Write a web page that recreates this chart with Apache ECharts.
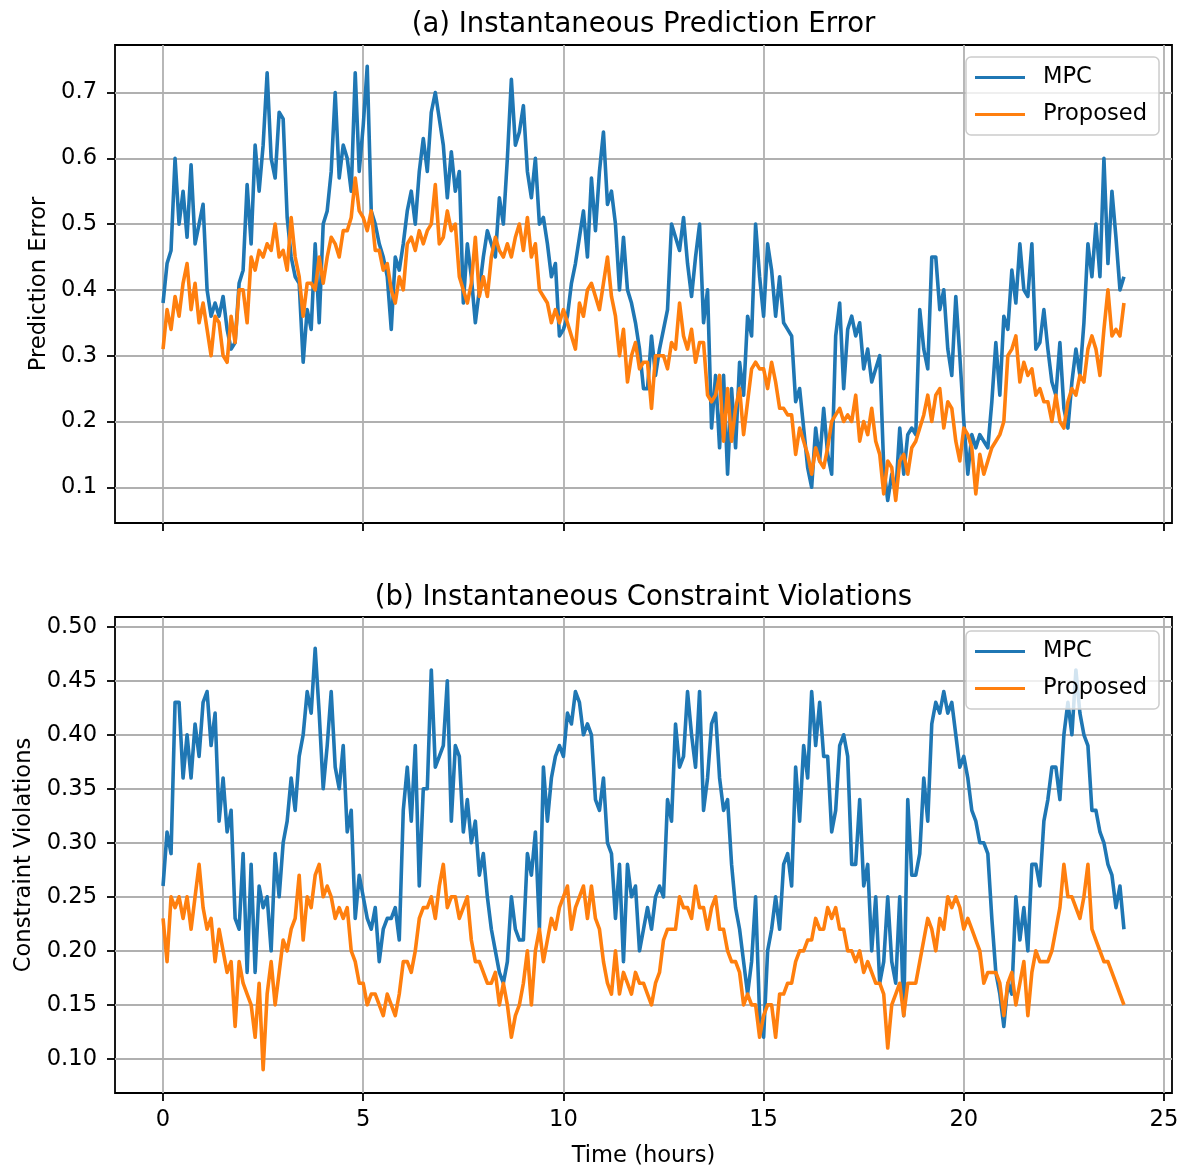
<!DOCTYPE html>
<html lang="en">
<head>
    <meta charset="UTF-8">
    <title>Instantaneous Prediction Error / Constraint Violations</title>
    <script src="https://cdn.jsdelivr.net/npm/echarts@6/dist/echarts.min.js"></script>
    <style>
        html, body { margin: 0; padding: 0; background: #fff; }
        #chart { width: 1184px; height: 1169px; }
    </style>
</head>
<body>
    <div id="chart"></div>

    <script>
        // sampled every 0.1 h, from 0 to 24 h
        const stepHours = 0.1;

        // (a) prediction error, MPC
        const mpcError = [
            0.38, 0.44, 0.46, 0.60, 0.50, 0.55, 0.48, 0.59, 0.47, 0.50,
            0.53, 0.40, 0.36, 0.38, 0.36, 0.39, 0.34, 0.31, 0.32, 0.41,
            0.43, 0.56, 0.47, 0.62, 0.55, 0.62, 0.73, 0.60, 0.57, 0.67,
            0.66, 0.51, 0.45, 0.42, 0.41, 0.29, 0.37, 0.34, 0.47, 0.35,
            0.50, 0.52, 0.58, 0.70, 0.57, 0.62, 0.60, 0.55, 0.73, 0.58,
            0.65, 0.74, 0.52, 0.50, 0.47, 0.45, 0.42, 0.34, 0.45, 0.43,
            0.47, 0.52, 0.55, 0.50, 0.58, 0.63, 0.58, 0.67, 0.70, 0.66,
            0.62, 0.54, 0.61, 0.55, 0.58, 0.38, 0.47, 0.42, 0.35, 0.40,
            0.45, 0.49, 0.47, 0.45, 0.54, 0.50, 0.60, 0.72, 0.62, 0.64,
            0.68, 0.58, 0.54, 0.60, 0.50, 0.51, 0.47, 0.42, 0.44, 0.33,
            0.34, 0.36, 0.41, 0.44, 0.48, 0.52, 0.45, 0.57, 0.49, 0.58,
            0.64, 0.53, 0.55, 0.50, 0.40, 0.48, 0.40, 0.38, 0.35, 0.31,
            0.25, 0.25, 0.33, 0.27, 0.31, 0.34, 0.37, 0.50, 0.48, 0.46,
            0.51, 0.44, 0.39, 0.45, 0.50, 0.35, 0.40, 0.19, 0.27, 0.16,
            0.27, 0.12, 0.25, 0.16, 0.29, 0.24, 0.36, 0.33, 0.50, 0.42,
            0.36, 0.47, 0.43, 0.36, 0.42, 0.35, 0.34, 0.33, 0.23, 0.25,
            0.19, 0.13, 0.10, 0.19, 0.14, 0.22, 0.15, 0.12, 0.33, 0.38,
            0.25, 0.34, 0.36, 0.33, 0.35, 0.28, 0.31, 0.26, 0.28, 0.30,
            0.13, 0.08, 0.12, 0.09, 0.19, 0.12, 0.18, 0.19, 0.18, 0.37,
            0.31, 0.28, 0.45, 0.45, 0.37, 0.40, 0.31, 0.27, 0.39, 0.30,
            0.20, 0.12, 0.18, 0.16, 0.18, 0.17, 0.16, 0.23, 0.32, 0.24,
            0.36, 0.34, 0.43, 0.38, 0.47, 0.40, 0.39, 0.47, 0.31, 0.32,
            0.37, 0.31, 0.26, 0.24, 0.32, 0.22, 0.19, 0.26, 0.31, 0.27,
            0.35, 0.47, 0.42, 0.50, 0.42, 0.60, 0.44, 0.55, 0.48, 0.40,
            0.42
        ];

        // (a) prediction error, Proposed
        const proposedError = [
            0.31, 0.37, 0.34, 0.39, 0.36, 0.41, 0.44, 0.37, 0.41, 0.35,
            0.38, 0.34, 0.30, 0.36, 0.35, 0.30, 0.29, 0.36, 0.32, 0.40,
            0.40, 0.35, 0.45, 0.43, 0.46, 0.45, 0.47, 0.46, 0.50, 0.45,
            0.46, 0.43, 0.51, 0.45, 0.42, 0.36, 0.41, 0.41, 0.40, 0.45,
            0.41, 0.45, 0.48, 0.47, 0.45, 0.49, 0.49, 0.51, 0.57, 0.52,
            0.51, 0.49, 0.52, 0.46, 0.46, 0.43, 0.44, 0.40, 0.38, 0.42,
            0.40, 0.47, 0.48, 0.46, 0.49, 0.47, 0.49, 0.50, 0.56, 0.47,
            0.48, 0.52, 0.49, 0.50, 0.42, 0.40, 0.38, 0.41, 0.48, 0.39,
            0.42, 0.39, 0.45, 0.48, 0.46, 0.45, 0.47, 0.45, 0.48, 0.50,
            0.46, 0.51, 0.45, 0.47, 0.40, 0.39, 0.38, 0.35, 0.37, 0.35,
            0.37, 0.35, 0.33, 0.31, 0.38, 0.36, 0.40, 0.41, 0.39, 0.37,
            0.41, 0.45, 0.39, 0.36, 0.30, 0.34, 0.26, 0.30, 0.32, 0.28,
            0.29, 0.29, 0.22, 0.30, 0.30, 0.30, 0.28, 0.32, 0.31, 0.38,
            0.33, 0.31, 0.34, 0.29, 0.32, 0.32, 0.24, 0.23, 0.24, 0.27,
            0.17, 0.25, 0.17, 0.22, 0.25, 0.18, 0.23, 0.28, 0.29, 0.28,
            0.28, 0.25, 0.29, 0.26, 0.22, 0.22, 0.21, 0.21, 0.15, 0.19,
            0.17, 0.15, 0.12, 0.16, 0.14, 0.13, 0.16, 0.20, 0.21, 0.22,
            0.20, 0.21, 0.20, 0.24, 0.17, 0.20, 0.18, 0.22, 0.17, 0.15,
            0.09, 0.14, 0.13, 0.08, 0.14, 0.15, 0.12, 0.16, 0.17, 0.19,
            0.21, 0.24, 0.20, 0.24, 0.25, 0.19, 0.23, 0.22, 0.17, 0.14,
            0.19, 0.18, 0.16, 0.09, 0.15, 0.12, 0.14, 0.16, 0.17, 0.18,
            0.20, 0.30, 0.31, 0.33, 0.26, 0.29, 0.27, 0.28, 0.24, 0.25,
            0.23, 0.23, 0.20, 0.24, 0.20, 0.19, 0.23, 0.25, 0.24, 0.27,
            0.26, 0.31, 0.33, 0.31, 0.27, 0.34, 0.40, 0.33, 0.34, 0.33,
            0.38
        ];

        // (b) constraint violations, MPC
        const mpcViolation = [
            0.26, 0.31, 0.29, 0.43, 0.43, 0.36, 0.40, 0.36, 0.41, 0.38,
            0.43, 0.44, 0.39, 0.42, 0.32, 0.36, 0.31, 0.33, 0.23, 0.22,
            0.29, 0.18, 0.28, 0.18, 0.26, 0.24, 0.25, 0.20, 0.29, 0.25,
            0.30, 0.32, 0.36, 0.33, 0.38, 0.40, 0.44, 0.42, 0.48, 0.42,
            0.35, 0.39, 0.44, 0.37, 0.35, 0.39, 0.31, 0.33, 0.23, 0.27,
            0.25, 0.23, 0.22, 0.24, 0.19, 0.22, 0.23, 0.23, 0.24, 0.21,
            0.33, 0.37, 0.32, 0.39, 0.26, 0.35, 0.35, 0.46, 0.37, 0.38,
            0.39, 0.45, 0.32, 0.39, 0.38, 0.31, 0.34, 0.30, 0.32, 0.27,
            0.29, 0.25, 0.22, 0.20, 0.18, 0.17, 0.19, 0.25, 0.22, 0.21,
            0.21, 0.29, 0.27, 0.31, 0.22, 0.37, 0.32, 0.36, 0.38, 0.39,
            0.38, 0.42, 0.41, 0.44, 0.43, 0.40, 0.41, 0.40, 0.34, 0.33,
            0.36, 0.30, 0.29, 0.23, 0.28, 0.19, 0.28, 0.25, 0.26, 0.20,
            0.22, 0.24, 0.22, 0.25, 0.26, 0.25, 0.34, 0.32, 0.41, 0.37,
            0.38, 0.44, 0.40, 0.37, 0.44, 0.33, 0.36, 0.41, 0.42, 0.36,
            0.33, 0.34, 0.28, 0.24, 0.22, 0.19, 0.16, 0.19, 0.25, 0.14,
            0.12, 0.20, 0.22, 0.25, 0.22, 0.28, 0.29, 0.26, 0.37, 0.32,
            0.39, 0.36, 0.44, 0.39, 0.43, 0.38, 0.38, 0.31, 0.33, 0.39,
            0.40, 0.38, 0.28, 0.28, 0.34, 0.26, 0.28, 0.20, 0.25, 0.17,
            0.19, 0.25, 0.19, 0.17, 0.25, 0.14, 0.34, 0.27, 0.27, 0.29,
            0.36, 0.32, 0.41, 0.43, 0.42, 0.44, 0.42, 0.43, 0.40, 0.37,
            0.38, 0.36, 0.33, 0.32, 0.30, 0.30, 0.29, 0.23, 0.18, 0.16,
            0.13, 0.17, 0.16, 0.25, 0.21, 0.24, 0.20, 0.28, 0.28, 0.26,
            0.32, 0.34, 0.37, 0.37, 0.34, 0.40, 0.43, 0.40, 0.46, 0.42,
            0.40, 0.39, 0.33, 0.33, 0.31, 0.30, 0.28, 0.27, 0.24, 0.26,
            0.22
        ];

        // (b) constraint violations, Proposed
        const proposedViolation = [
            0.23, 0.19, 0.25, 0.24, 0.25, 0.23, 0.25, 0.22, 0.25, 0.28,
            0.24, 0.22, 0.23, 0.19, 0.22, 0.20, 0.18, 0.19, 0.13, 0.19,
            0.17, 0.16, 0.15, 0.12, 0.17, 0.09, 0.16, 0.19, 0.15, 0.18,
            0.21, 0.20, 0.22, 0.23, 0.27, 0.21, 0.25, 0.24, 0.27, 0.28,
            0.25, 0.26, 0.25, 0.23, 0.24, 0.23, 0.24, 0.20, 0.19, 0.17,
            0.17, 0.15, 0.16, 0.16, 0.15, 0.14, 0.16, 0.15, 0.14, 0.16,
            0.19, 0.19, 0.18, 0.20, 0.23, 0.24, 0.24, 0.25, 0.23, 0.26,
            0.28, 0.24, 0.25, 0.25, 0.23, 0.24, 0.25, 0.21, 0.19, 0.19,
            0.18, 0.17, 0.17, 0.18, 0.15, 0.17, 0.15, 0.12, 0.14, 0.15,
            0.17, 0.20, 0.15, 0.20, 0.22, 0.19, 0.21, 0.23, 0.22, 0.24,
            0.25, 0.26, 0.22, 0.24, 0.25, 0.26, 0.23, 0.26, 0.23, 0.22,
            0.19, 0.17, 0.16, 0.20, 0.16, 0.18, 0.17, 0.16, 0.18, 0.17,
            0.17, 0.16, 0.15, 0.17, 0.18, 0.21, 0.22, 0.22, 0.22, 0.25,
            0.24, 0.24, 0.23, 0.26, 0.24, 0.24, 0.22, 0.24, 0.25, 0.22,
            0.22, 0.20, 0.19, 0.19, 0.18, 0.15, 0.16, 0.15, 0.15, 0.12,
            0.14, 0.15, 0.15, 0.12, 0.16, 0.16, 0.17, 0.17, 0.19, 0.20,
            0.20, 0.21, 0.21, 0.23, 0.22, 0.22, 0.24, 0.23, 0.24, 0.22,
            0.22, 0.20, 0.20, 0.19, 0.20, 0.18, 0.19, 0.18, 0.17, 0.17,
            0.16, 0.11, 0.15, 0.16, 0.17, 0.14, 0.17, 0.17, 0.17, 0.19,
            0.21, 0.23, 0.22, 0.20, 0.23, 0.22, 0.25, 0.24, 0.25, 0.24,
            0.22, 0.23, 0.22, 0.21, 0.20, 0.17, 0.18, 0.18, 0.18, 0.17,
            0.14, 0.17, 0.18, 0.15, 0.17, 0.19, 0.14, 0.18, 0.20, 0.19,
            0.19, 0.19, 0.20, 0.22, 0.24, 0.28, 0.25, 0.25, 0.24, 0.23,
            0.25, 0.28, 0.22, 0.21, 0.20, 0.19, 0.19, 0.18, 0.17, 0.16,
            0.15
        ];

        // tick labels
        const hourTicks = [0, 5, 10, 15, 20, 25];
        const errorTicks = [0.1, 0.2, 0.3, 0.4, 0.5, 0.6, 0.7];
        const violationTicks = [0.10, 0.15, 0.20, 0.25, 0.30, 0.35, 0.40, 0.45, 0.50];

        const hours = mpcError.map((_, i) => +(i * stepHours).toFixed(1));
        const pairs = values => values.map((v, i) => [hours[i], v]);

        const BLUE = '#1f77b4';
        const ORANGE = '#ff7f0e';
        const FONT = 'DejaVu Sans';
        const FS = 22.6;

        const tickStyle = { show: true, inside: false, length: 8, lineStyle: { color: '#000', width: 1.8 } };
        const gridLine = { show: true, lineStyle: { color: '#b0b0b0', width: 1.8 } };

        function xAxisFor(gridIndex, withLabels) {
            return {
                type: 'value', gridIndex, min: -1.2, max: 25.2,
                axisLine: { show: false, onZero: false },
                axisTick: Object.assign({ customValues: hourTicks }, tickStyle),
                axisLabel: {
                    show: withLabels, customValues: hourTicks, margin: 16,
                    color: '#000', fontSize: FS, fontFamily: FONT
                },
                splitLine: gridLine,
                name: withLabels ? 'Time (hours)' : '',
                nameLocation: 'middle', nameGap: 52,
                nameTextStyle: { color: '#000', fontSize: FS, fontFamily: FONT }
            };
        }

        function yAxisFor(gridIndex, min, max, ticks, digits, name, gap) {
            return {
                type: 'value', gridIndex, min, max,
                axisLine: { show: false, onZero: false },
                axisTick: Object.assign({ customValues: ticks }, tickStyle),
                axisLabel: {
                    customValues: ticks, margin: 18,
                    formatter: v => v.toFixed(digits),
                    color: '#000', fontSize: FS, fontFamily: FONT
                },
                splitLine: gridLine,
                name, nameLocation: 'middle', nameGap: gap,
                nameTextStyle: { color: '#000', fontSize: FS, fontFamily: FONT }
            };
        }

        // thin bar, like a matplotlib legend handle
        const handle = 'path://M0,0L50,0L50,3L0,3Z';

        function legendAt(top) {
            return {
                orient: 'vertical', left: 966, top,
                padding: [9, 12, 9, 9],
                itemWidth: 50, itemHeight: 22, itemGap: 14,
                symbolKeepAspect: true,
                backgroundColor: 'rgba(255,255,255,0.8)',
                borderColor: '#cccccc', borderWidth: 1.5, borderRadius: 5,
                textStyle: { color: '#000', fontSize: FS, fontFamily: FONT, padding: [0, 0, 0, 13] },
                data: [{ name: 'MPC', icon: handle }, { name: 'Proposed', icon: handle }]
            };
        }

        function lineSeries(name, color, values, idx) {
            return {
                name, type: 'line', xAxisIndex: idx, yAxisIndex: idx,
                data: pairs(values),
                symbol: 'none', showSymbol: false,
                lineStyle: { color, width: 3.6, join: 'round' },
                itemStyle: { color },
                animation: false
            };
        }

        const chart = echarts.init(document.getElementById('chart'));

        const option = {
            backgroundColor: '#fff',
            animation: false,
            textStyle: { fontFamily: FONT },
            title: [
                {
                    text: '(a) Instantaneous Prediction Error', left: 643.5, top: 11, textAlign: 'center', padding: 0,
                    textStyle: { color: '#000', fontSize: 27.5, fontWeight: 'normal', fontFamily: FONT }
                },
                {
                    text: '(b) Instantaneous Constraint Violations', left: 643.5, top: 584, textAlign: 'center', padding: 0,
                    textStyle: { color: '#000', fontSize: 27.5, fontWeight: 'normal', fontFamily: FONT }
                }
            ],
            legend: [legendAt(57), legendAt(631)],
            grid: [
                { left: 115, top: 45, width: 1057, height: 478, show: true, borderColor: '#000', borderWidth: 1.8, backgroundColor: 'transparent' },
                { left: 115, top: 617, width: 1057, height: 478, show: true, borderColor: '#000', borderWidth: 1.8, backgroundColor: 'transparent' }
            ],
            xAxis: [xAxisFor(0, false), xAxisFor(1, true)],
            yAxis: [
                yAxisFor(0, 0.0457, 0.7722, errorTicks, 1, 'Prediction Error', 63),
                yAxisFor(1, 0.0684, 0.509, violationTicks, 2, 'Constraint Violations', 76)
            ],
            series: [
                lineSeries('MPC', BLUE, mpcError, 0),
                lineSeries('Proposed', ORANGE, proposedError, 0),
                lineSeries('MPC', BLUE, mpcViolation, 1),
                lineSeries('Proposed', ORANGE, proposedViolation, 1)
            ]
        };

        chart.setOption(option);
        window.addEventListener('resize', () => chart.resize());
    </script>
</body>
</html>
